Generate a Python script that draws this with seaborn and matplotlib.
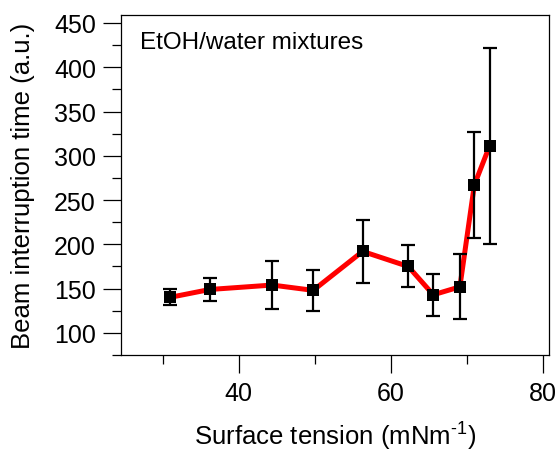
import numpy as np
import pandas as pd
import matplotlib
matplotlib.use("Agg")
import matplotlib.pyplot as plt
from matplotlib.ticker import MultipleLocator
import seaborn as sns

# =========================== DATA ===========================
surface_tension = [30.9, 36.2, 44.4, 49.8, 56.3, 62.3, 65.6, 69.1, 71.0, 73.0]
beam_time = [140, 149, 154, 148, 192, 175, 143, 152, 267, 311]
beam_err = [9, 12.5, 27.5, 23.5, 36, 23.7, 24, 36.6, 60, 111]

df = pd.DataFrame({"tension": surface_tension, "time": beam_time, "err": beam_err})

# =========================== STYLE ===========================
sns.set_style("ticks")
plt.rcParams['font.family'] = ['Liberation Sans', 'DejaVu Sans']
plt.rcParams['mathtext.fontset'] = 'custom'
plt.rcParams['mathtext.rm'] = 'Liberation Sans'
plt.rcParams['text.color'] = 'black'
plt.rcParams['axes.labelcolor'] = 'black'
plt.rcParams['xtick.color'] = 'black'
plt.rcParams['ytick.color'] = 'black'

fig = plt.figure(figsize=(5.6, 4.52), dpi=100)
ax = fig.add_axes([0.216, 0.2124, 0.764, 0.7522])

# =========================== PLOT ===========================
sns.lineplot(data=df, x="tension", y="time", color="#ff0000", linewidth=3.6,
             ax=ax, zorder=2, sort=False)
ax.errorbar(df["tension"], df["time"], yerr=df["err"], fmt="none",
            ecolor="black", elinewidth=1.6, capsize=5.2, capthick=1.6, zorder=3)
sns.scatterplot(data=df, x="tension", y="time", marker="s", s=75,
                color="black", edgecolor="black", linewidth=0, ax=ax, zorder=4)

ax.set_xlim(24.5, 80.8)
ax.set_ylim(75, 459)
ax.xaxis.set_major_locator(MultipleLocator(20))
ax.xaxis.set_minor_locator(MultipleLocator(10))
ax.yaxis.set_major_locator(MultipleLocator(50))
ax.yaxis.set_minor_locator(MultipleLocator(25))

ax.tick_params(axis="both", which="major", direction="out", length=13, width=0.9,
               labelsize=18, color="black", labelcolor="black", top=False, right=False)
ax.tick_params(axis="both", which="minor", direction="out", length=6.5, width=0.9,
               color="black", top=False, right=False)
ax.tick_params(axis="y", which="major", pad=5)
ax.tick_params(axis="x", which="major", pad=6)

for side in ["left", "right", "top", "bottom"]:
    ax.spines[side].set_visible(True)
    ax.spines[side].set_linewidth(0.9)
    ax.spines[side].set_color("black")

ax.set_xlabel("Surface tension (mNm$^{\\text{-1}}$)", fontsize=18.5, labelpad=9,
              color="black")
ax.set_ylabel("Beam interruption time (a.u.)", fontsize=18.5, labelpad=14,
              color="black")

ax.text(0.045, 0.92, "EtOH/water mixtures", transform=ax.transAxes,
        fontsize=17.5, ha="left", va="center", color="black")

plt.savefig("out.png", dpi=100)
plt.close()
